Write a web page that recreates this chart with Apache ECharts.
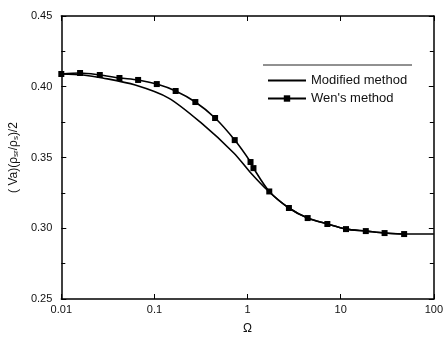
<!DOCTYPE html>
<html>
<head>
<meta charset="utf-8">
<script src="https://cdn.jsdelivr.net/npm/echarts@6/dist/echarts.min.js"></script>
<style>
  html, body { margin: 0; padding: 0; background: #fff; }
  #chart { width: 446px; height: 345px; }
</style>
</head>
<body>
<div id="chart"></div>
<script>
// values
const modifiedX = [0.01, 0.0171, 0.0278, 0.0622, 0.142, 0.318, 0.711, 1.06, 1.67, 2.78, 4.42, 7.19, 11.4, 18.6, 29.6, 48, 100];
const modifiedY = [0.409, 0.4083, 0.4062, 0.4012, 0.392, 0.3744, 0.3532, 0.3398, 0.3263, 0.3143, 0.3072, 0.303, 0.2994, 0.298, 0.2966, 0.2959, 0.2959];

const wenX = [0.01, 0.0159, 0.0259, 0.0421, 0.0668, 0.106, 0.169, 0.275, 0.448, 0.728, 1.076, 1.157, 1.71, 2.78, 4.42, 7.19, 11.4, 18.6, 29.6, 48];
const wenY = [0.409, 0.4097, 0.4083, 0.4062, 0.4048, 0.4019, 0.397, 0.3892, 0.3779, 0.3623, 0.3468, 0.3425, 0.326, 0.3143, 0.3072, 0.303, 0.2994, 0.298, 0.2966, 0.2959];

const xTicks = [0.01, 0.1, 1, 10, 100];
const yTicks = [0.25, 0.30, 0.35, 0.40, 0.45];

const pairs = (xs, ys) => xs.map((x, i) => [x, ys[i]]);
const font = 'Liberation Sans, Arial, sans-serif';

var myChart = echarts.init(document.getElementById('chart'));
myChart.setOption({
    animation: false,
    backgroundColor: '#fff',
    grid: { left: 58, right: 10, top: 16, bottom: 46, containLabel: false },
    legend: {
        orient: 'vertical',
        left: 262,
        top: 69,
        itemWidth: 38,
        itemHeight: 8,
        itemGap: 5,
        textStyle: { fontFamily: font, fontSize: 13, color: '#111' },
        data: [
            { name: 'Modified method', icon: 'path://M0,0h40v2h-40z', itemStyle: { color: '#000' } },
            "Wen's method"
        ]
    },
    graphic: [{
        type: 'line',
        shape: { x1: 263, y1: 65, x2: 412, y2: 65 },
        style: { stroke: '#222', lineWidth: 1 }
    }],
    xAxis: [{
        type: 'log',
        logBase: 10,
        min: xTicks[0],
        max: xTicks[xTicks.length - 1],
        name: 'Ω',
        nameLocation: 'middle',
        nameGap: 24,
        nameTextStyle: { fontFamily: font, fontSize: 12, color: '#111' },
        axisLine: { lineStyle: { color: '#000', width: 1.5 } },
        axisTick: { inside: true, length: 5, lineStyle: { color: '#000' } },
        axisLabel: {
            fontFamily: font, fontSize: 11, color: '#111', margin: 5,
            formatter: v => String(v)
        },
        splitLine: { show: false }
    }, {
        type: 'log',
        position: 'top',
        min: xTicks[0],
        max: xTicks[xTicks.length - 1],
        axisLine: { show: true, onZero: false, lineStyle: { color: '#000', width: 1.5 } },
        axisTick: { inside: true, length: 5, lineStyle: { color: '#000' } },
        axisLabel: { show: false },
        splitLine: { show: false }
    }],
    yAxis: [{
        type: 'value',
        min: yTicks[0],
        max: yTicks[yTicks.length - 1],
        interval: 0.05,
        name: '{a|( Va)(ρ}{s|sr}{a|/ρ}{s|s}{a|)/2}',
        nameLocation: 'middle',
        nameGap: 34,
        nameTextStyle: {
            rich: {
                a: { fontFamily: font, fontSize: 12, color: '#111' },
                s: { fontFamily: font, fontSize: 8, color: '#111', verticalAlign: 'bottom', padding: [4, 0, 0, 0] }
            }
        },
        axisLine: { show: true, lineStyle: { color: '#000', width: 1.5 } },
        axisTick: { inside: true, length: 5, lineStyle: { color: '#000' } },
        minorTick: { show: true, splitNumber: 2, length: 4, lineStyle: { color: '#000' } },
        axisLabel: {
            fontFamily: font, fontSize: 11, color: '#111', margin: 9,
            formatter: v => v.toFixed(2)
        },
        splitLine: { show: false }
    }, {
        type: 'value',
        position: 'right',
        min: yTicks[0],
        max: yTicks[yTicks.length - 1],
        interval: 0.05,
        axisLine: { show: true, onZero: false, lineStyle: { color: '#000', width: 1.5 } },
        axisTick: { inside: true, length: 5, lineStyle: { color: '#000' } },
        minorTick: { show: true, splitNumber: 2, length: 4, lineStyle: { color: '#000' } },
        axisLabel: { show: false },
        splitLine: { show: false }
    }],
    series: [
        {
            name: 'Modified method',
            type: 'line',
            data: pairs(modifiedX, modifiedY),
            smooth: 0.3,
            symbol: 'none',
            lineStyle: { color: '#000', width: 1.6 },
            itemStyle: { color: '#000' }
        },
        {
            name: "Wen's method",
            type: 'line',
            data: pairs(wenX, wenY),
            smooth: 0.3,
            symbol: 'rect',
            symbolSize: 6,
            lineStyle: { color: '#000', width: 1.6 },
            itemStyle: { color: '#000' }
        }
    ]
});
</script>
</body>
</html>
